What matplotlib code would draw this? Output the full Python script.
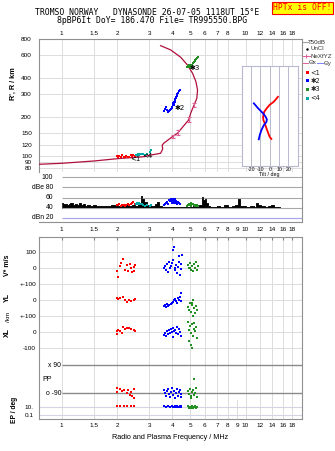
import matplotlib
matplotlib.use('Agg')
import matplotlib.pyplot as plt
from matplotlib.lines import Line2D
from matplotlib.patches import Rectangle
from matplotlib.ticker import FixedLocator, NullLocator, FixedFormatter
from matplotlib.transforms import blended_transform_factory

# ---------------- data ----------------
xt_top = [1, 1.5, 2, 3, 4, 5, 6, 7, 8, 10, 12, 14, 16, 18]
xt_top_lbl = ['1', '1.5', '2', '3', '4', '5', '6', '7', '8', '10', '12', '14', '16', '18']
xt_bot = [1, 1.5, 2, 3, 4, 5, 6, 7, 8, 9, 10, 12, 14, 16, 18]
xt_bot_lbl = ['1', '1.5', '2', '3', '4', '5', '6', '7', '8', '9', '10', '12', '14', '16', '18']
r_ticks = [80, 90, 100, 120, 150, 200, 300, 400, 600, 800]

# true-height profile (plasma frequency / MHz, height / km)
prof_f = [0.755, 1.00, 1.50, 2.00, 2.80, 3.00, 3.45, 3.54, 3.52, 3.60, 4.00, 4.26, 4.55,
          4.90, 5.04, 5.25, 5.43, 5.48, 5.37, 5.15, 4.83, 4.44, 3.92, 3.45]
prof_r = [85.8, 87.3, 91.0, 94.8, 98.2, 100.7, 104.4, 112.7, 121, 125.5, 140.4, 149.2, 167,
          189, 215.6, 247.4, 278.8, 323.4, 375, 435.9, 505, 580, 661, 714]
nex_f = [4.03, 4.30, 4.93, 5.25]
nex_r = [141, 151, 192, 248]
nex_err = [5, 6, 8, 10]

# echo clusters (frequency, virtual range, amplitude dBe)
red_f = [2.00, 2.03, 2.06, 2.10, 2.13, 2.17, 2.21, 2.25, 2.29, 2.33, 2.37, 2.41, 2.45, 2.49]
red_r = [100, 98, 99, 97, 102, 98, 97, 99, 97, 98, 101, 100, 102, 99]
red_db = [46, 45, 47, 44, 46, 45, 44, 46, 47, 45, 48, 49, 51, 47]
teal_f = [2.52, 2.56, 2.60, 2.64, 2.68, 2.73, 2.78, 2.84, 2.90, 3.02, 3.06]
teal_r = [101, 102, 103, 102, 103, 104, 103, 102, 104, 106, 110]
teal_db = [47, 49, 48, 50, 48, 47, 45, 44, 46, 43, 45]
blue_f = [3.60, 3.64, 3.68, 3.72, 3.78, 3.84, 3.90, 3.95, 3.98, 4.00, 4.02, 4.05, 4.06,
          4.08, 4.10, 4.12, 4.14, 4.15, 4.18, 4.20, 4.22, 4.26, 4.30, 4.34, 4.38]
blue_r = [222, 230, 238, 226, 220, 224, 228, 232, 236, 240, 248, 256, 246, 262, 254, 270,
          262, 276, 284, 280, 292, 300, 308, 316, 322]
blue_db = [46, 48, 50, 52, 47, 55, 53, 57, 49, 54, 58, 51, 56, 50, 55, 53, 57, 52, 49, 54,
           51, 48, 52, 50, 47]
green_f = [4.80, 4.86, 4.92, 4.95, 4.98, 5.02, 5.05, 5.06, 5.10, 5.15, 5.22, 5.28, 5.34,
           5.40, 5.46, 5.52]
green_r = [490, 500, 485, 510, 495, 505, 480, 490, 510, 520, 535, 545, 555, 565, 575, 585]
green_db = [44, 46, 45, 48, 47, 49, 46, 44, 48, 47, 45, 46, 44, 43, 45, 44]

lab_f = [2.36, 2.75, 4.12, 4.95]
lab_r = [95, 98.6, 235, 480]
lab_txt = ['<1', '<4', '\u27312', '\u27313']

# tilt inset
tilt_ticks = [-20, -10, 0, 10, 20]
tx_deg = [8.8, 7.1, 4.3, 0.0, -3.2, -5.9, -7.1, -6.8, -5.3, -2.9, 0.0, 1.8]
tx_h = [69, 67, 64, 61, 57.5, 54, 49, 46, 42.5, 36, 29, 27]
ty_deg = [-17, -12.4, -7.1, -4.3, -3.0, -3.5, -6.1, -8.8, -10.6, -11.7]
ty_h = [62.5, 57.5, 52.5, 49, 46.5, 44, 41, 36, 31, 26.6]

# receiver noise (dBe)
noise_f = [1.00, 1.02, 1.05, 1.08, 1.10, 1.13, 1.16, 1.19, 1.22, 1.25, 1.28, 1.32, 1.36, 1.40,
           1.45, 1.50, 1.56, 1.62, 1.68, 1.75, 1.82, 1.90, 1.98, 2.05, 2.15, 2.25, 2.35, 2.45,
           2.55, 2.65, 2.72, 2.78, 2.85, 2.95, 3.05, 3.15, 3.25, 3.35, 3.45, 3.55, 3.70, 3.90,
           4.10, 4.30, 4.50, 4.70, 4.90, 5.10, 5.30, 5.50, 5.70, 5.85, 5.95, 6.05, 6.15, 6.30,
           6.50, 6.80, 7.10, 7.40, 7.80, 8.20, 8.60, 9.00, 9.20, 9.40, 9.80, 10.3, 10.8, 11.3,
           11.6, 11.9, 12.5, 13.0, 13.5, 14.0, 14.5, 15.0, 15.4]
noise_db = [49, 47, 48, 46, 47, 50, 46, 48, 45, 49, 45, 47, 44, 46, 44, 45, 43, 44, 43, 44,
            43, 45, 43, 44, 43, 45, 44, 46, 44, 48, 63, 58, 52, 45, 43, 44, 48, 52, 44, 42,
            42, 42, 42, 41, 42, 42, 42, 42, 43, 42, 45, 61, 55, 58, 50, 43, 42, 42, 43, 42,
            45, 42, 43, 46, 57, 44, 43, 42, 43, 42, 50, 45, 43, 42, 44, 46, 42, 42, 42]

# Doppler velocity V*, YL and XL (lower panel)
v_ticks = [100, 0, -100, -200, -300, -400, -500]
v_lbl = ['100', '0', '+-100', '0', '+-100', '0', '-100']
YL_OFF = -200
XL_OFF = -400
rv_f = [2.008, 2.033, 2.085, 2.111, 2.165, 2.221, 2.278, 2.306, 2.356, 2.395, 2.425, 2.457, 2.487, 2.519]
rv_v = [-15, -54, 14, 33, 58, -10, 20, -17, 27, 2, -23, 8, -17, 21]
ryl_f = [2.000, 2.033, 2.085, 2.165, 2.221, 2.278, 2.335, 2.395, 2.457, 2.519]
ryl_v = [16, 8, 14, 22, 2, -10, -1, -4, 2, 8]
rxl_f = [2.000, 2.008, 2.033, 2.085, 2.130, 2.165, 2.221, 2.278, 2.335, 2.395, 2.457, 2.519]
rxl_v = [-9, 8, 14, 8, -2, 35, 21, 27, 29, 21, 14, 8]
bv_f = [3.598, 3.630, 3.676, 3.723, 3.770, 3.818, 3.867, 3.916, 3.965, 4.016, 4.041, 4.067,
        4.119, 4.145, 4.171, 4.224, 4.277, 4.331, 4.348, 4.413, 4.441, 4.480, 4.50]
bv_v = [2, 14, -10, 27, -23, 39, 2, 14, 33, 52, 114, 135, 2, -10, 21, -29, 8, 39, 77, -42, -4, 27, 83]
byl_f = [3.598, 3.630, 3.676, 3.723, 3.770, 3.818, 3.916, 3.965, 4.016, 4.067, 4.119, 4.171,
         4.224, 4.277, 4.331, 4.385, 4.441, 4.469]
byl_v = [-36, -29, -42, -23, -36, -29, -23, -17, -10, 2, 8, -4, -17, 14, 2, 21, 46, -4]
bxl_f = [3.598, 3.630, 3.676, 3.723, 3.770, 3.818, 3.867, 3.916, 3.965, 4.016, 4.016, 4.067,
         4.119, 4.171, 4.224, 4.277, 4.331, 4.385, 4.441]
bxl_v = [-17, -4, -23, 8, -10, 14, -4, 21, 2, 27, -29, 8, 14, -4, 33, -10, 21, 2, -23]
gv_f = [4.851, 4.913, 4.975, 5.007, 5.038, 5.102, 5.167, 5.232, 5.298, 5.365, 5.433, 5.502]
gv_v = [21, 2, 33, -1, -10, 14, -17, 27, 2, 39, -10, 14]
gyl_f = [4.851, 4.913, 4.975, 5.038, 5.102, 5.134, 5.167, 5.199, 5.232, 5.298, 5.365, 5.433]
gyl_v = [-42, -61, -17, -73, -29, -17, 2, -98, -48, -79, -36, -61]
gxl_f = [4.851, 4.913, 4.944, 4.975, 5.038, 5.038, 5.102, 5.134, 5.167, 5.232, 5.232, 5.298, 5.365, 5.433]
gxl_v = [64, 14, -54, 39, -4, -79, 52, -98, -23, 21, 58, 8, 33, -36]

# polarization PP and EP
rpp_f = [2.000, 2.008, 2.085, 2.138, 2.174, 2.278, 2.306, 2.365, 2.395, 2.425, 2.457, 2.487]
rpp_v = [-58, -80, -63, -75, -72, -88, -69, -101, -82, -107, -120, -63]
bpp_f = [3.598, 3.630, 3.676, 3.723, 3.770, 3.818, 3.867, 3.916, 3.965, 4.016, 4.067, 4.119,
         4.171, 4.224, 4.277, 4.331, 4.385, 4.441, 4.480]
bpp_v = [-69, -88, -107, -75, -63, -94, -113, -82, -59, -101, -75, -120, -88, -63, -107, -82, -69, -94, -113]
gpp_f = [4.851, 4.913, 4.975, 5.038, 5.070, 5.102, 5.167, 5.212, 5.232, 5.298, 5.365, 5.433]
gpp_v = [-75, -94, -63, -107, -120, -82, -69, -1, -101, -88, -59, -113]
rep_f = [2.000, 2.085, 2.193, 2.278, 2.395, 2.487]
rep_v = [15, 15, 14, 15, 12, 14]
bep_f = [3.598, 3.676, 3.770, 3.867, 3.965, 4.016, 4.067, 4.119, 4.171, 4.224, 4.277, 4.331,
         4.385, 4.441, 4.480]
bep_v = [14, 10, 12, 8, 14, 10, 7, 12, 9, 13, 8, 11, 14, 10, 12]
gep_f = [4.851, 4.913, 4.975, 5.038, 5.102, 5.167, 5.232, 5.298, 5.365, 5.433]
gep_v = [14, 6, 10, 4, 12, 5, 9, 14, 6, 10]

# ---------------- style ----------------
W, H = 335, 451
SANS = 'Liberation Sans'
MONO = 'DejaVu Sans Mono'
TFS = 4.6
LFS = 4.4
GRID = '#dcdcdc'
SPINE = '#909090'
C_RED, C_BLUE, C_GREEN, C_TEAL = '#ff0000', '#0000ff', '#229022', '#00a8a8'
C_PROF = '#b0103c'
C_PINK = '#e0609a'
XLIM = (0.755, 20.2)
MS = 2.0

plt.rcParams['font.family'] = [SANS, 'DejaVu Sans']

fig = plt.figure(figsize=(W / 100, H / 100), dpi=100)
fig.patch.set_facecolor('white')


def rect(x0, y0, x1, y1):
    return [x0 / W, 1 - y1 / H, (x1 - x0) / W, (y1 - y0) / H]


def fx(x):
    return x / W


def fy(y):
    return 1 - y / H


def style_x(a, ticks, labels):
    a.set_xscale('log')
    a.set_xlim(*XLIM)
    a.xaxis.set_major_locator(FixedLocator(ticks))
    a.xaxis.set_major_formatter(FixedFormatter(labels))
    a.xaxis.set_minor_locator(NullLocator())


def spines(a, show):
    for k, s in a.spines.items():
        s.set_visible(k in show)
        s.set_color(SPINE)
        s.set_linewidth(0.8)


# ---------------- titles ----------------
fig.text(fx(35), fy(12.3), 'TROMSO NORWAY   DYNASONDE 26-07-05 1118UT 15\u00b0E',
         family=MONO, fontsize=5.9, ha='left', va='center')
fig.text(fx(57), fy(20.7), '8pBP6It DoY= 186.470 File= TR995550.BPG',
         family=MONO, fontsize=5.9, ha='left', va='center')
fig.text(fx(302.3), fy(8), 'HPTx is OFF!', family=MONO, fontsize=5.8, color='red',
         ha='center', va='center',
         bbox=dict(facecolor='#ffff00', edgecolor='red', pad=0.9, lw=0.8))

# ---------------- main panel ----------------
ax = fig.add_axes(rect(39.3, 39.3, 301.7, 171.8))
style_x(ax, xt_top, xt_top_lbl)
ax.set_yscale('log')
ax.set_ylim(75, 800)
ax.yaxis.set_major_locator(FixedLocator(r_ticks))
ax.yaxis.set_major_formatter(FixedFormatter([str(v) for v in r_ticks]))
ax.yaxis.set_minor_locator(NullLocator())
ax.grid(True, color=GRID, lw=0.7)
ax.set_axisbelow(True)
ax.tick_params(axis='x', top=True, bottom=False, labeltop=True, labelbottom=False,
               length=0, pad=2.2, labelsize=TFS)
ax.tick_params(axis='y', length=0, pad=5.3, labelsize=TFS)
spines(ax, ['left', 'top', 'right'])

ax.plot(prof_f, prof_r, color=C_PROF, lw=0.9, zorder=3)
ax.errorbar(nex_f, nex_r, yerr=nex_err, fmt='none', ecolor=C_PINK, elinewidth=0.8,
            capsize=1.3, capthick=0.8, zorder=4)
for xs, ys, c in [(red_f, red_r, C_RED), (teal_f, teal_r, C_TEAL),
                  (blue_f, blue_r, C_BLUE), (green_f, green_r, C_GREEN)]:
    ax.plot(xs, ys, 's', color=c, ms=MS, mew=0, zorder=5)
for f, r, t in zip(lab_f, lab_r, lab_txt):
    ax.text(f, r, t, fontsize=5, family=['DejaVu Sans'], ha='left', va='center', zorder=6)

fig.text(fx(13.5), fy(84), "R', R / km", rotation=90, fontsize=5.2, weight='bold',
         ha='center', va='center')

# legend (outside right)
fig.add_artist(Line2D([fx(302.7), fx(307.5)], [fy(42.3), fy(42.3)], color='#a0a0a0', lw=0.8))
fig.text(fx(308.3), fy(42.3), 'T50dB', fontsize=LFS, ha='left', va='center', color='#303030')
fig.add_artist(Line2D([fx(306.7)], [fy(49)], marker='.', ms=1.5, color='k', lw=0))
fig.text(fx(310.7), fy(49), 'UnCl', fontsize=LFS, ha='left', va='center', color='#303030')
fig.add_artist(Line2D([fx(302.7), fx(310)], [fy(56), fy(56)], color=C_PINK, lw=0.7))
fig.add_artist(Line2D([fx(306.3)], [fy(56)], marker='+', ms=2.5, mew=0.7, color=C_PINK, lw=0))
fig.text(fx(310.5), fy(56), 'NeXfYZ', fontsize=LFS, ha='left', va='center', color='#303030')
fig.add_artist(Line2D([fx(302.7), fx(308.3)], [fy(63), fy(63)], color=C_PINK, lw=0.7))
fig.text(fx(308.5), fy(63), '\u0398x', fontsize=LFS, ha='left', va='center', color='#303030')
fig.add_artist(Line2D([fx(317.3), fx(323.3)], [fy(63), fy(63)], color='#8080ff', lw=0.7))
fig.text(fx(323.5), fy(63), '\u0398y', fontsize=LFS, ha='left', va='center', color='#303030')
for yy, c, t in [(72.7, C_RED, '<1'), (80.7, C_BLUE, '\u27312'), (89.3, C_GREEN, '\u27313'),
                 (98.3, C_TEAL, '<4')]:
    fig.add_artist(Rectangle((fx(306), fy(yy) - 1.4 / H), 2.8 / W, 2.8 / H, color=c, lw=0))
    fig.text(fx(310.7), fy(yy), t, fontsize=LFS + 0.4, family=['DejaVu Sans'], ha='left',
             va='center', color='#202020')

# tilt inset
axi = fig.add_axes(rect(241.7, 65.7, 297.7, 166))
axi.set_xlim(-30, 30)
axi.set_ylim(0, 100)
axi.set_facecolor('white')
axi.set_xticks(tilt_ticks)
axi.set_xticklabels([str(v) for v in tilt_ticks])
axi.set_yticks([])
axi.grid(axis='x', color='#b8b8d0', lw=0.7)
axi.set_axisbelow(True)
axi.tick_params(axis='x', length=0, pad=0.8, labelsize=3.7)
for s in axi.spines.values():
    s.set_color('#b8b8d0')
    s.set_linewidth(0.8)
axi.set_xlabel('Tilt / deg', fontsize=3.9, labelpad=0.2)
axi.plot(tx_deg, tx_h, color=C_RED, lw=1.3)
axi.plot(ty_deg, ty_h, color=C_BLUE, lw=1.3)

# ---------------- dBe panel ----------------
axd = fig.add_axes(rect(39.3, 172, 301.7, 221.7))
style_x(axd, xt_bot, xt_bot_lbl)
axd.set_ylim(12.1, 110.5)
axd.set_yticks([])
axd.set_facecolor('none')
axd.tick_params(axis='x', length=0, pad=4.0, labelsize=TFS)
spines(axd, ['bottom', 'right'])
axd.hlines([100, 80, 60, 40], 1, XLIM[1], color='#a8a8a8', lw=0.8)
axd.hlines([20], 1, XLIM[1], color='#a8a8e8', lw=0.9)
bt = blended_transform_factory(axd.transAxes, axd.transData)
for v, t in [(100, '100'), (80, 'dBe 80'), (60, '60'), (40, '40'), (20, 'dBn 20')]:
    axd.text(0.052, v, t, transform=bt, ha='right', va='center', fontsize=TFS + 0.3)
axd.fill_between(noise_f, 40, noise_db, step='mid', color='k', lw=0.4)
axd.step(noise_f, noise_db, where='mid', color='k', lw=0.5)
for xs, ys, c in [(red_f, red_db, C_RED), (teal_f, teal_db, C_TEAL),
                  (blue_f, blue_db, C_BLUE), (green_f, green_db, C_GREEN)]:
    axd.plot(xs, ys, 's', color=c, ms=MS, mew=0, zorder=5)

# ---------------- velocity / YL / XL panel ----------------
axv = fig.add_axes(rect(39.3, 236.5, 301.7, 356))
style_x(axv, xt_top, xt_top_lbl)
axv.set_ylim(-548, 199)
axv.yaxis.set_major_locator(FixedLocator(v_ticks))
axv.yaxis.set_major_formatter(FixedFormatter(v_lbl))
axv.grid(True, color=GRID, lw=0.7)
axv.set_axisbelow(True)
axv.tick_params(axis='x', top=True, bottom=False, labeltop=False, labelbottom=False,
                direction='in', length=2.5, color='#808080')
axv.tick_params(axis='y', length=0, pad=2.3, labelsize=TFS)
spines(axv, ['top', 'left', 'right'])
for xs, ys, off, c in [(rv_f, rv_v, 0, C_RED), (ryl_f, ryl_v, YL_OFF, C_RED), (rxl_f, rxl_v, XL_OFF, C_RED),
                       (bv_f, bv_v, 0, C_BLUE), (byl_f, byl_v, YL_OFF, C_BLUE), (bxl_f, bxl_v, XL_OFF, C_BLUE),
                       (gv_f, gv_v, 0, C_GREEN), (gyl_f, gyl_v, YL_OFF, C_GREEN), (gxl_f, gxl_v, XL_OFF, C_GREEN)]:
    axv.plot(xs, [v + off for v in ys], 's', color=c, ms=MS - 0.2, mew=0)

fig.text(fx(7.5), fy(265), 'V* m/s', rotation=90, fontsize=5.0, weight='bold', ha='center', va='center')
fig.text(fx(7.5), fy(298), 'YL', rotation=90, fontsize=5.0, weight='bold', ha='center', va='center')
fig.text(fx(8), fy(317), '/km', rotation=90, fontsize=4.6, ha='center', va='center')
fig.text(fx(7.5), fy(333), 'XL', rotation=90, fontsize=5.0, weight='bold', ha='center', va='center')

# ---------------- PP panel ----------------
axp = fig.add_axes(rect(39.3, 356, 301.7, 400))
style_x(axp, xt_top, xt_top_lbl)
axp.set_ylim(-132.6, 147.3)
axp.set_yticks([])
axp.grid(axis='x', color=GRID, lw=0.7)
axp.set_axisbelow(True)
axp.tick_params(axis='x', length=0, labelbottom=False)
spines(axp, ['left', 'right'])
axp.hlines([90, -90], 1, XLIM[1], color='#8a8a8a', lw=1.0)
bp = blended_transform_factory(axp.transAxes, axp.transData)
axp.text(0.083, 90, 'x 90', transform=bp, ha='right', va='center', fontsize=TFS + 0.3)
axp.text(0.083, -90, 'o -90', transform=bp, ha='right', va='center', fontsize=TFS + 0.3)
axp.text(0.013, 0, 'PP', transform=bp, ha='left', va='center', fontsize=TFS + 0.5)
for xs, ys, c in [(rpp_f, rpp_v, C_RED), (bpp_f, bpp_v, C_BLUE), (gpp_f, gpp_v, C_GREEN)]:
    axp.plot(xs, ys, 's', color=c, ms=MS - 0.2, mew=0)

# ---------------- EP panel ----------------
axe = fig.add_axes(rect(39.3, 400, 301.7, 419))
style_x(axe, xt_bot, xt_bot_lbl)
axe.set_yscale('log')
axe.set_ylim(0.0109, 411)
axe.yaxis.set_major_locator(FixedLocator([10, 0.1]))
axe.yaxis.set_major_formatter(FixedFormatter(['10.', '0.1']))
axe.yaxis.set_minor_locator(NullLocator())
axe.grid(axis='x', color=GRID, lw=0.7)
axe.set_axisbelow(True)
axe.hlines([10, 0.1], XLIM[0], XLIM[1], color='#d4d4e4', lw=0.8)
axe.tick_params(axis='x', length=0, pad=2.6, labelsize=TFS)
axe.tick_params(axis='y', length=0, pad=4.0, labelsize=TFS)
spines(axe, ['left', 'right', 'bottom'])
for xs, ys, c in [(rep_f, rep_v, C_RED), (bep_f, bep_v, C_BLUE), (gep_f, gep_v, C_GREEN)]:
    axe.plot(xs, ys, 's', color=c, ms=MS - 0.2, mew=0)

fig.text(fx(15), fy(410), 'EP / deg', rotation=90, fontsize=4.8, weight='bold', ha='center', va='center')
fig.text(fx(170), fy(437.7), 'Radio and Plasma Frequency / MHz', fontsize=5.2, ha='center', va='center')

fig.savefig('out.png', dpi=100, facecolor='white')
